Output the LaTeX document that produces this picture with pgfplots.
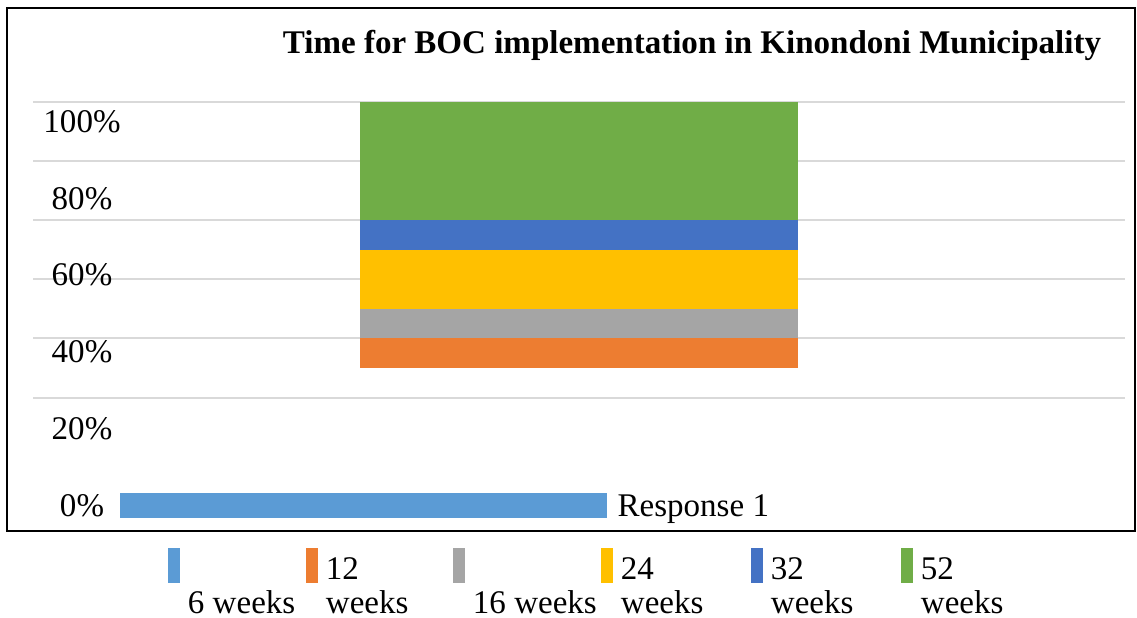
\documentclass[border=0pt]{standalone}
\usepackage{fontspec}
\setmainfont{Liberation Serif}
\usepackage{pgfplots}
\pgfplotsset{compat=1.18}
\definecolor{cA}{HTML}{5B9BD5}
\definecolor{cB}{HTML}{ED7D31}
\definecolor{cC}{HTML}{A5A5A5}
\definecolor{cD}{HTML}{FFC000}
\definecolor{cE}{HTML}{4472C4}
\definecolor{cF}{HTML}{70AD47}
\newcommand\lgd[3]{\begin{tabular}{@{}p{#1}@{}}#2\\#3\end{tabular}}
\begin{document}
\fontsize{9.4pt}{9.7pt}\selectfont
\begin{tikzpicture}[x=1mm,y=1mm]
\fill[white] (0,0) rectangle (113.7,-61.8);
\useasboundingbox (0,0) rectangle (113.7,-61.8);
\draw[line width=0.2mm, black] (0.7,-0.8) rectangle (113.5,-53.1);
\node[font=\bfseries, anchor=base, inner sep=0pt] at (69.2,-5.4) {Time for BOC implementation in Kinondoni Municipality};
\begin{axis}[at={(3.3mm,-52.2mm)}, anchor=south west, scale only axis,
  width=109.2mm, height=42.03mm, xmin=0, xmax=1, ymin=-42, ymax=100,
  ybar stacked, bar width=0.4011,
  axis line style={draw=none}, xtick=\empty,
  ytick={0,20,...,100}, yticklabels={}, major tick length=0,
  ymajorgrids, grid style={draw=black!15, line width=0.2mm},
  extra y ticks={89.5,63.5,37.8,11.8,-14.2,-40.2},
  extra y tick labels={100\%,80\%,60\%,40\%,20\%,0\%},
  extra y tick style={grid=none, yticklabel style={anchor=base, xshift=4.9mm, inner sep=0pt}},
  legend columns=6,
  legend style={at={(axis description cs:0.1236,-0.0625)}, anchor=north west,
    draw=none, fill=none, inner sep=0pt, outer sep=0pt, column sep=0pt,
    /tikz/every odd column/.append style={column sep=0.8mm},
    nodes={inner sep=0pt}},
  legend image code/.code={\fill[#1] (0mm,-0.45mm) rectangle (1.2mm,3.05mm);},
  legend cell align=left,
]
\addlegendimage{fill=cA, draw=none}
\addlegendentry{\lgd{11.8mm}{}{6 weeks}}
\addplot[draw=none, fill=none, forget plot] coordinates {(0.5,10)};
\addplot[fill=cB, draw=none] coordinates {(0.5,10)};
\addlegendentry{\lgd{12.7mm}{12}{weeks}}
\addplot[fill=cC, draw=none] coordinates {(0.5,10)};
\addlegendentry{\lgd{12.8mm}{}{16 weeks}}
\addplot[fill=cD, draw=none] coordinates {(0.5,20)};
\addlegendentry{\lgd{13mm}{24}{weeks}}
\addplot[fill=cE, draw=none] coordinates {(0.5,10)};
\addlegendentry{\lgd{13mm}{32}{weeks}}
\addplot[fill=cF, draw=none] coordinates {(0.5,40)};
\addlegendentry{\lgd{10mm}{52}{weeks}}
\end{axis}
\begin{axis}[at={(3.3mm,-52.2mm)}, anchor=south west, scale only axis,
  width=109.2mm, height=42.03mm, xmin=-1.786, xmax=20.64, ymin=-42, ymax=100,
  hide axis, xbar, bar width=8.4]
\addplot[fill=cA, draw=none, nodes near coords={Response 1},
  every node near coord/.append style={anchor=base west, inner sep=0pt, xshift=1mm, yshift=-1.15mm, black}]
  coordinates {(10,-36.3)};
\end{axis}
\end{tikzpicture}
\end{document}
